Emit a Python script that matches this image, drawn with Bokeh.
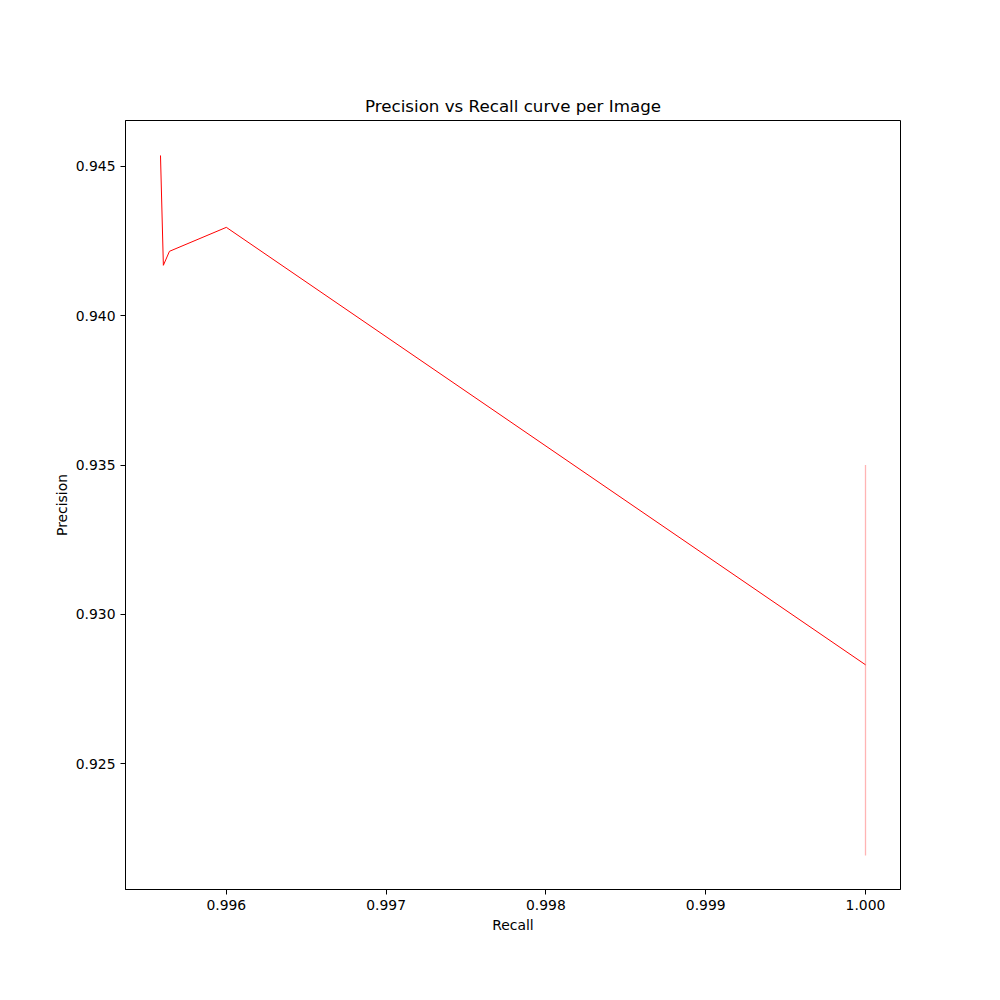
from bokeh.plotting import figure
from bokeh.models import Range1d, FixedTicker, NumeralTickFormatter
from bokeh.embed import file_html
from bokeh.resources import INLINE

# Precision-recall curve points
recall = [0.995588, 0.995606, 0.995644, 0.996000, 1.000000]
precision = [0.945368, 0.941689, 0.942157, 0.942960, 0.928311]

# Vertical band at recall = 1.0
band_recall = [1.000000, 1.000000]
band_precision = [0.935000, 0.921923]

x_ticks = [0.996, 0.997, 0.998, 0.999, 1.000]
y_ticks = [0.925, 0.930, 0.935, 0.940, 0.945]

p = figure(
    output_backend="svg", toolbar_location=None,
    frame_width=775, frame_height=769,
    min_border_left=125, min_border_right=92,
    min_border_top=120, min_border_bottom=103,
    x_range=Range1d(0.995369, 1.000219),
    y_range=Range1d(0.920786, 0.946538),
    title="Precision vs Recall curve per Image",
    x_axis_label="Recall", y_axis_label="Precision",
)

p.line(band_recall, band_precision, line_color="#ffb4b4", line_width=1.3)
p.line(recall, precision, line_color="red", line_width=1)

p.title.align = "center"
p.title.text_font = "DejaVu Sans"
p.title.text_font_size = "16.7px"
p.title.text_font_style = "normal"
p.title.text_color = "black"

p.xgrid.visible = False
p.ygrid.visible = False
p.outline_line_color = "black"
p.outline_line_alpha = 1
p.outline_line_width = 1
p.background_fill_color = "white"
p.border_fill_color = "white"

p.xaxis.ticker = FixedTicker(ticks=x_ticks)
p.yaxis.ticker = FixedTicker(ticks=y_ticks)
for ax in (p.xaxis, p.yaxis):
    ax.formatter = NumeralTickFormatter(format="0.000")
    ax.major_tick_in = 0
    ax.major_tick_out = 5
    ax.minor_tick_line_color = None
    ax.axis_line_color = "black"
    ax.major_tick_line_color = "black"
    ax.major_label_text_font = "DejaVu Sans"
    ax.major_label_text_font_size = "13.9px"
    ax.major_label_text_color = "black"
    ax.axis_label_text_font = "DejaVu Sans"
    ax.axis_label_text_font_size = "13.9px"
    ax.axis_label_text_font_style = "normal"
    ax.axis_label_text_color = "black"
p.xaxis.axis_label_standoff = 4
p.yaxis.axis_label_standoff = 3

open("out.html", "w").write(file_html(p, INLINE))
